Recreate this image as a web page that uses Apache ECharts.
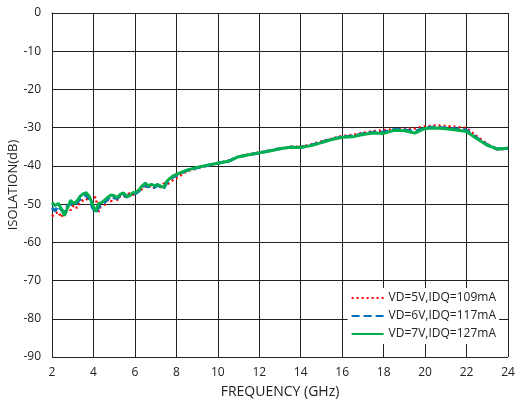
<!DOCTYPE html>
<html>
<head>
<meta charset="utf-8">
<script src="https://cdn.jsdelivr.net/npm/echarts@6/dist/echarts.min.js"></script>
<style>
  html, body { margin: 0; padding: 0; background: #fff; }
  #chart { width: 515px; height: 404px; }
</style>
</head>
<body>
<div id="chart"></div>
<script>
// frequency points (GHz)
const freq = [
  2.00, 2.15, 2.30, 2.45, 2.60, 2.75, 2.90, 3.05, 3.20, 3.35, 3.50, 3.65, 3.80, 3.95,
  4.10, 4.25, 4.40, 4.55, 4.70, 4.85, 5.00, 5.15, 5.30, 5.45, 5.60, 5.75, 5.90, 6.05,
  6.20, 6.35, 6.50, 6.65, 6.80, 6.95, 7.10, 7.25, 7.40, 7.55, 7.70, 7.85, 8.00,
  8.5, 9, 9.5, 10, 10.5, 11, 11.5, 12, 12.5, 13, 13.5, 14, 14.5, 15, 15.5, 16,
  16.5, 17, 17.5, 18, 18.5, 19, 19.5, 20, 20.5, 21, 21.5, 22, 22.5, 23, 23.5, 24
];
const vd5 = [
  -53.2, -52.5, -52.0, -53.5, -51.5, -50.8, -51.6, -50.2, -51.0, -49.5, -49.0, -48.6, -49.2, -48.4,
  -48.2, -52.0, -49.5, -50.2, -48.8, -49.3, -48.0, -48.9, -47.8, -48.2, -47.6, -47.2, -47.6, -47.0,
  -46.5, -46.0, -45.4, -45.6, -45.0, -45.8, -44.8, -45.6, -44.6, -44.8, -44.3, -43.6, -43.2,
  -41.4, -40.6, -39.9, -39.3, -38.7, -37.6, -37.0, -36.5, -36.0, -35.4, -35.0, -35.0, -34.4, -33.6, -32.9, -32.2,
  -31.9, -31.4, -30.9, -30.7, -30.4, -30.3, -30.2, -29.7, -29.4, -29.6, -29.8, -30.1, -32.3, -34.3, -35.7, -35.5
];
const vd6 = [
  -51.0, -51.8, -50.5, -51.5, -52.0, -50.5, -49.8, -50.5, -49.6, -48.8, -48.3, -47.6, -48.6, -50.8,
  -52.3, -50.8, -49.9, -49.5, -48.6, -48.0, -48.4, -48.5, -47.8, -47.5, -48.2, -47.5, -47.3, -47.2,
  -46.6, -45.6, -45.0, -45.5, -45.3, -45.6, -45.0, -45.6, -45.8, -44.3, -43.6, -42.9, -42.5,
  -41.2, -40.5, -39.9, -39.3, -38.8, -37.6, -37.1, -36.6, -36.0, -35.5, -35.1, -35.1, -34.6, -33.8, -33.0, -32.4,
  -32.2, -31.6, -31.2, -31.2, -30.5, -30.6, -31.0, -30.0, -29.9, -30.1, -30.3, -30.7, -32.7, -34.5, -35.6, -35.4
];
const vd7 = [
  -49.6, -50.4, -49.8, -51.2, -53.0, -51.0, -49.0, -49.9, -49.2, -48.0, -47.3, -47.0, -48.0, -50.0,
  -52.0, -49.8, -49.6, -48.9, -48.2, -47.6, -47.8, -48.3, -47.4, -47.1, -48.0, -47.8, -47.0, -46.9,
  -46.3, -45.2, -44.5, -45.2, -44.8, -45.2, -44.9, -45.3, -45.6, -44.0, -43.2, -42.6, -42.2,
  -41.1, -40.4, -39.8, -39.3, -38.8, -37.6, -37.1, -36.6, -36.1, -35.5, -35.1, -35.2, -34.7, -33.9, -33.1, -32.5,
  -32.4, -31.8, -31.4, -31.5, -30.7, -30.8, -31.4, -30.2, -30.1, -30.3, -30.6, -31.0, -32.9, -34.6, -35.6, -35.4
];
const names = ['VD=5V,IDQ=109mA', 'VD=6V,IDQ=117mA', 'VD=7V,IDQ=127mA'];

const font = '"Open Sans", "Liberation Sans", sans-serif';
const gridColor = '#222';

function pairs(vals) {
  return freq.map((f, i) => [f, vals[i]]);
}

const chart = echarts.init(document.getElementById('chart'));
chart.setOption({
  animation: false,
  backgroundColor: '#fff',
  textStyle: { fontFamily: font, color: '#222' },
  grid: { left: 52, right: 7, top: 13, bottom: 47, containLabel: false, outerBoundsMode: 'none' },
  legend: {
    orient: 'vertical',
    right: 16,
    top: 288,
    padding: [4, 3, 4, 3],
    itemGap: 6,
    itemWidth: 32,
    itemHeight: 14,
    backgroundColor: '#fff',
    itemStyle: { opacity: 0 },
    textStyle: { fontFamily: font, fontSize: 12, color: '#222' },
    data: names
  },
  xAxis: {
    type: 'value',
    min: 2, max: 24, interval: 2,
    name: 'FREQUENCY (GHz)',
    nameLocation: 'middle',
    nameGap: 28,
    nameTextStyle: { fontFamily: font, fontSize: 14, color: '#222' },
    axisLine: { show: true, lineStyle: { color: gridColor, width: 1 } },
    axisTick: { show: false },
    axisLabel: { fontFamily: font, fontSize: 12, color: '#222', margin: 10 },
    splitLine: { show: true, lineStyle: { color: gridColor, width: 1 } }
  },
  yAxis: {
    type: 'value',
    min: -90, max: 0, interval: 10,
    name: 'ISOLATION(dB)',
    nameLocation: 'middle',
    nameGap: 32,
    nameMoveOverlap: false,
    nameTextStyle: { fontFamily: font, fontSize: 13, color: '#222' },
    axisLine: { show: true, lineStyle: { color: gridColor, width: 1 } },
    axisTick: { show: false },
    axisLabel: { fontFamily: font, fontSize: 12, color: '#222', margin: 11 },
    splitLine: { show: true, lineStyle: { color: gridColor, width: 1 } }
  },
  series: [
    {
      name: names[0], type: 'line', data: pairs(vd5), symbol: 'none',
      lineStyle: { color: '#ff0000', width: 2.5, type: [2, 3] },
      itemStyle: { color: '#ff0000' }, z: 2
    },
    {
      name: names[1], type: 'line', data: pairs(vd6), symbol: 'none',
      lineStyle: { color: '#0070c0', width: 3, type: [8, 4] },
      itemStyle: { color: '#0070c0' }, z: 3
    },
    {
      name: names[2], type: 'line', data: pairs(vd7), symbol: 'none',
      lineStyle: { color: '#00b050', width: 3 },
      itemStyle: { color: '#00b050' }, z: 4
    }
  ]
});
</script>
</body>
</html>
